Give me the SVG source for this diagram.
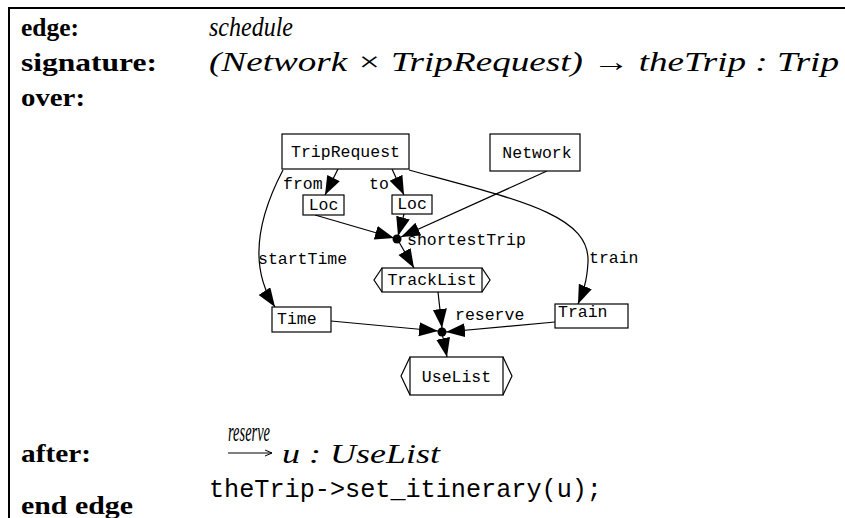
<svg xmlns="http://www.w3.org/2000/svg" width="845" height="518" viewBox="0 0 845 518">
<style>
.kw{font-family:"Liberation Serif",serif;font-weight:bold;font-size:25px;fill:#000}
.m{font-family:"Liberation Serif",serif;font-style:italic;font-size:27px;fill:#000}
.code{font-family:"Liberation Mono",monospace;font-size:25px;fill:#000}
.lb{font-family:"Liberation Mono",monospace;font-size:16.5px;fill:#000}
.box{fill:#fff;stroke:#000;stroke-width:1.2}
.e{fill:none;stroke:#000;stroke-width:1.2}
</style>
<defs>
<marker id="ah" markerUnits="userSpaceOnUse" markerWidth="20" markerHeight="16" refX="19" refY="7" orient="auto">
<path d="M0,0 L19,7 L0,14 z" fill="#000"/>
</marker>
<marker id="sh" markerUnits="userSpaceOnUse" markerWidth="8" markerHeight="8" refX="7" refY="4" orient="auto">
<path d="M0,1 L7,4 L0,7" fill="none" stroke="#000" stroke-width="1"/>
</marker>
</defs>
<rect width="845" height="518" fill="#fff"/>
<g id="frame">
<line x1="8" y1="8" x2="845" y2="8" stroke="#000" stroke-width="2.2"/>
<line x1="9" y1="7" x2="9" y2="518" stroke="#000" stroke-width="2"/>
</g>
<g id="header">
<text class="kw" x="21" y="36" textLength="58" lengthAdjust="spacingAndGlyphs">edge:</text>
<text class="m" x="209" y="36" font-size="25" textLength="84" lengthAdjust="spacingAndGlyphs">schedule</text>
<text class="kw" x="21" y="71" textLength="136" lengthAdjust="spacingAndGlyphs">signature:</text>
<text class="m" x="209" y="71" textLength="630" lengthAdjust="spacingAndGlyphs">(Network × TripRequest) → theTrip : Trip</text>
<text class="kw" x="21" y="106" textLength="64" lengthAdjust="spacingAndGlyphs">over:</text>
</g>
<g id="connectors">
<line class="e" x1="338" y1="169" x2="325" y2="195" marker-end="url(#ah)"/>
<line class="e" x1="392" y1="169" x2="404" y2="195" marker-end="url(#ah)"/>
<line class="e" x1="315" y1="215" x2="394" y2="238" marker-end="url(#ah)"/>
<line class="e" x1="404" y1="214" x2="398" y2="236" marker-end="url(#ah)"/>
<line class="e" x1="547" y1="171" x2="401" y2="237" marker-end="url(#ah)"/>
<line class="e" x1="399" y1="242" x2="414" y2="268" marker-end="url(#ah)"/>
<path class="e" d="M283,170 C262,210 245,262 275,307" marker-end="url(#ah)"/>
<path class="e" d="M409,170 C520,200 590,215 588,262 C587,282 583,292 578,304" marker-end="url(#ah)"/>
<line class="e" x1="331" y1="321" x2="438" y2="331" marker-end="url(#ah)"/>
<line class="e" x1="438" y1="292" x2="442" y2="328" marker-end="url(#ah)"/>
<line class="e" x1="555" y1="322" x2="446" y2="332" marker-end="url(#ah)"/>
<line class="e" x1="442" y1="333" x2="447" y2="357" marker-end="url(#ah)"/>
<text class="lb" x="283" y="189">from</text>
<text class="lb" x="369" y="189">to</text>
<text class="lb" x="258" y="264">startTime</text>
<text class="lb" x="589" y="263">train</text>
</g>
<g id="TripRequest">
<rect class="box" x="282" y="134" width="127" height="35"/>
<text class="lb" x="345.5" y="157" text-anchor="middle">TripRequest</text>
</g>
<g id="Network">
<rect class="box" x="490" y="134" width="90" height="37"/>
<text class="lb" x="537" y="158" text-anchor="middle">Network</text>
</g>
<g id="Loc1">
<rect class="box" x="303" y="195" width="41" height="20"/>
<text class="lb" x="323.5" y="210" text-anchor="middle">Loc</text>
</g>
<g id="Loc2">
<rect class="box" x="392" y="195" width="40" height="19"/>
<text class="lb" x="412" y="209" text-anchor="middle">Loc</text>
</g>
<g id="shortestTrip">
<circle cx="397" cy="239" r="4.5" fill="#000"/>
<text class="lb" x="407" y="245">shortestTrip</text>
</g>
<g id="TrackList">
<rect class="box" x="382" y="268" width="100" height="24"/>
<path class="e" d="M382,268 L374,280 L382,292 M482,268 L490,280 L482,292"/>
<text class="lb" x="432" y="285" text-anchor="middle">TrackList</text>
</g>
<g id="Time">
<rect class="box" x="272" y="307" width="59" height="25"/>
<text class="lb" x="277" y="324">Time</text>
</g>
<g id="Train">
<rect class="box" x="555" y="304" width="73" height="24"/>
<text class="lb" x="558" y="317">Train</text>
</g>
<g id="reserve">
<circle cx="442" cy="332" r="4.5" fill="#000"/>
<text class="lb" x="455" y="320">reserve</text>
</g>
<g id="UseList">
<rect class="box" x="410" y="357" width="93" height="38"/>
<path class="e" d="M410,357 L401,376 L410,395 M503,357 L512,376 L503,395"/>
<text class="lb" x="456.5" y="382" text-anchor="middle">UseList</text>
</g>
<g id="footer">
<text class="kw" x="21" y="462" textLength="70" lengthAdjust="spacingAndGlyphs">after:</text>
<text class="m" x="228" y="441" font-size="14" textLength="42" lengthAdjust="spacingAndGlyphs">reserve</text>
<line x1="228" y1="453" x2="272" y2="453" stroke="#000" stroke-width="1" marker-end="url(#sh)"/>
<text class="m" x="282" y="463" textLength="158" lengthAdjust="spacingAndGlyphs">u : UseList</text>
<text class="code" x="209" y="497" textLength="393" lengthAdjust="spacingAndGlyphs">theTrip-&gt;set_itinerary(u);</text>
<text class="kw" x="21" y="514" textLength="112" lengthAdjust="spacingAndGlyphs">end edge</text>
</g>
</svg>
